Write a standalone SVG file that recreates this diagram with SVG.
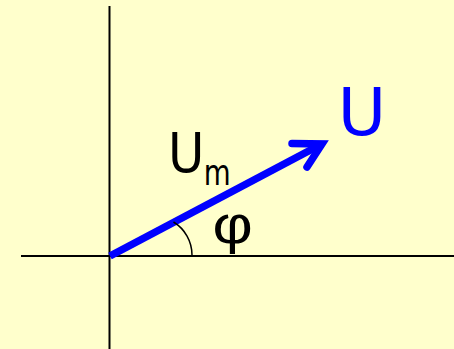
<svg xmlns="http://www.w3.org/2000/svg" width="454" height="349" viewBox="0 0 454 349">
<style>
.axis{stroke:#000;stroke-width:2;fill:none}
.vec{stroke:#0000FF;stroke-width:7.5;fill:none;stroke-linecap:round;stroke-linejoin:miter}
.t{font-family:"DejaVu Sans",sans-serif}
</style>
<rect width="454" height="349" fill="#FFFFCC"/>
<g id="axes">
<line class="axis" x1="109.5" y1="6" x2="109.5" y2="349"/>
<line class="axis" x1="21" y1="256" x2="454" y2="256"/>
</g>
<g id="connectors">
<line class="vec" style="stroke-linecap:butt" x1="110" y1="256" x2="320" y2="145"/>
<path class="vec" d="M292,143.5 L322,144 L307,167"/>
<path d="M173.5,222 A38.7,38.7 0 0 1 192,255" fill="none" stroke="#000" stroke-width="1.5"/>
</g>
<g id="label-U">
<text class="t" x="337.7" y="135" font-size="66" fill="#0000FF">U</text>
</g>
<g id="label-Um">
<text class="t" transform="translate(168.1,171.5) scale(0.91,1)" font-size="54.6" fill="#000">U</text>
<text class="t" transform="translate(203.8,185.3) scale(0.79,1)" font-size="35" fill="#000">m</text>
</g>
<g id="label-phi">
<text transform="translate(212.5,243) scale(1.15,1)" font-family="'Liberation Sans',Arial,sans-serif" font-size="54" fill="#000">φ</text>
</g>
</svg>
